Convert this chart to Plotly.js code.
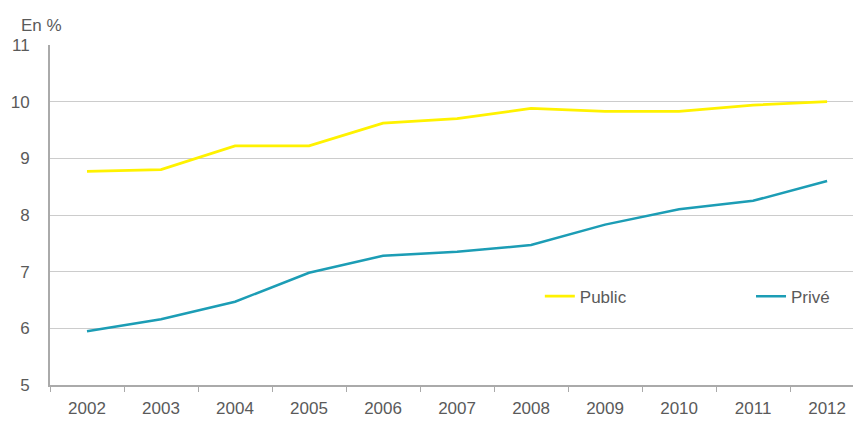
<!DOCTYPE html>
<html>
<head>
<meta charset="utf-8">
<script src="https://cdn.plot.ly/plotly-3.0.1.min.js"></script>
<style>html,body{margin:0;padding:0;background:#fff}#chart{width:853px;height:421px}</style>
</head>
<body>
<div id="chart"></div>
<script>
const years = ["2002","2003","2004","2005","2006","2007","2008","2009","2010","2011","2012"];
const publicVals = [8.77, 8.80, 9.22, 9.22, 9.62, 9.70, 9.88, 9.83, 9.83, 9.94, 10.0];
const priveVals = [5.95, 6.16, 6.47, 6.98, 7.28, 7.35, 7.47, 7.83, 8.10, 8.25, 8.60];
const yTicks = [5, 6, 7, 8, 9, 10, 11];

const fontFam = '"Liberation Sans Narrow", "Liberation Sans", Arial, sans-serif';
const txtColor = "#5a5a5a";

const traces = [
  {x: years, y: publicVals, name: "Public", type: "scatter", mode: "lines",
   line: {color: "#FFF200", width: 2.8}, legend: "legend"},
  {x: years, y: priveVals, name: "Privé", type: "scatter", mode: "lines",
   line: {color: "#1C9DB5", width: 2.5}, legend: "legend2"}
];

const legendBase = {orientation: "h", y: 0.26, xanchor: "left", yanchor: "middle",
                    font: {size: 17, color: txtColor}, bgcolor: "rgba(0,0,0,0)"};

const layout = {
  width: 853, height: 421,
  margin: {l: 50, r: 0, t: 45, b: 36},
  paper_bgcolor: "#fff", plot_bgcolor: "#fff",
  font: {family: fontFam, size: 17, color: txtColor},
  showlegend: true,
  legend: Object.assign({}, legendBase, {x: 0.61}),
  legend2: Object.assign({}, legendBase, {x: 0.873}),
  xaxis: {type: "category", range: [-0.5, 10.35], tickson: "boundaries",
          ticks: "outside", ticklen: 5, tickcolor: "#aaa", tickwidth: 1,
          ticklabelstandoff: 7,
          showgrid: false, showline: true, linecolor: "#aaa", linewidth: 2,
          tickfont: {size: 17, color: txtColor}, zeroline: false},
  yaxis: {range: [5, 11], tickvals: yTicks, ticktext: yTicks.map(String),
          showgrid: true, gridcolor: "#cccccc", gridwidth: 1,
          showline: true, linecolor: "#aaa", linewidth: 2, ticks: "",
          ticklabelstandoff: 15, tickfont: {size: 17, color: txtColor}, zeroline: false},
  annotations: [{text: "En %", xref: "paper", yref: "paper", x: -0.038, y: 1.0,
                 xanchor: "left", yanchor: "bottom", yshift: 8, showarrow: false,
                 font: {size: 17, color: txtColor, family: fontFam}}]
};

Plotly.newPlot("chart", traces, layout, {displayModeBar: false, staticPlot: true});
</script>
</body>
</html>
